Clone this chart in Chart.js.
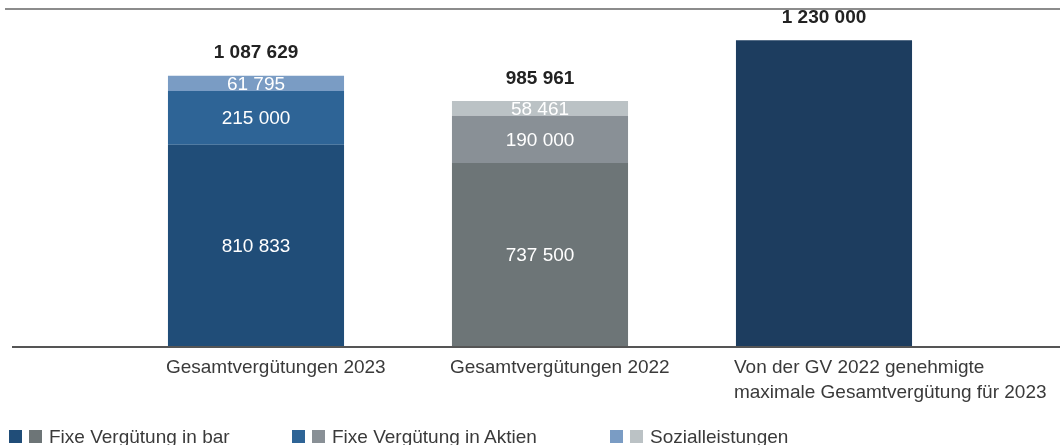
<!DOCTYPE html>
<html>
<head>
<meta charset="utf-8">
<script src="https://cdn.jsdelivr.net/npm/chart.js@4/dist/chart.umd.min.js"></script>
<style>
  body { margin: 0; background: #fff; }
  #wrap { position: relative; width: 1060px; height: 445px; overflow: hidden; }
  .legend { position: absolute; top: 426px; font: 19px "Liberation Sans", Arial, sans-serif; color: #3a3a3a; white-space: nowrap; line-height: 22px; }
  .legend span.sq { display: inline-block; width: 13px; height: 13px; margin-right: 7px; vertical-align: 0px; }
</style>
</head>
<body>
<div id="wrap">
  <canvas id="payChart" width="1060" height="445"></canvas>
  <div id="legendBox"></div>
</div>
<script>
// data
const categories = [
    "Gesamtvergütungen 2023",
    "Gesamtvergütungen 2022",
    ["Von der GV 2022 genehmigte", "maximale Gesamtvergütung für 2023"],
];
const seriesNames = ["Fixe Vergütung in bar", "Fixe Vergütung in Aktien", "Sozialleistungen"];
const cashValues = [810833, 737500, null];
const sharesValues = [215000, 190000, null];
const socialValues = [61795, 58461, null];
const approvedValues = [null, null, 1230000];
const totals = [1087629, 985961, 1230000];

// colours per bar: 2023 blue, 2022 grey
const cashColors = ["#204d78", "#6d7577", "#1d3d5f"];
const sharesColors = ["#2e6496", "#899096", "#1d3d5f"];
const socialColors = ["#7a9cc4", "#bbc2c5", "#1d3d5f"];

const fmt = (v) => String(v).replace(/\B(?=(\d{3})+(?!\d))/g, " ");

const extrasPlugin = {
    id: "extras",
    afterDatasetsDraw(chart) {
        const ctx = chart.ctx;
        const area = chart.chartArea;
        ctx.save();
        // top rule and base line
        ctx.strokeStyle = "#666";
        ctx.lineWidth = 1.5;
        ctx.beginPath();
        ctx.moveTo(5, area.top);
        ctx.lineTo(chart.width, area.top);
        ctx.stroke();
        ctx.strokeStyle = "#555";
        ctx.lineWidth = 2;
        ctx.beginPath();
        ctx.moveTo(12, area.bottom);
        ctx.lineTo(chart.width, area.bottom);
        ctx.stroke();

        // values inside the segments
        ctx.fillStyle = "#fff";
        ctx.font = "19px 'Liberation Sans', Arial, sans-serif";
        ctx.textAlign = "center";
        ctx.textBaseline = "middle";
        chart.data.datasets.forEach((ds, di) => {
            if (di > 2) return;
            chart.getDatasetMeta(di).data.forEach((bar, i) => {
                const v = ds.data[i];
                if (v == null) return;
                ctx.fillText(fmt(v), bar.x, (bar.y + bar.base) / 2 + 1);
            });
        });

        // totals above each bar + category labels under
        const metaX = chart.getDatasetMeta(0).data;
        const yScale = chart.scales.y;
        totals.forEach((t, i) => {
            const bar = metaX[i];
            const top = yScale.getPixelForValue(t);
            ctx.fillStyle = "#222";
            ctx.font = "bold 19px 'Liberation Sans', Arial, sans-serif";
            ctx.textAlign = "center";
            ctx.textBaseline = "bottom";
            ctx.fillText(fmt(t), bar.x, top - 13);

            const lines = [].concat(categories[i]);
            ctx.fillStyle = "#3a3a3a";
            ctx.font = "19px 'Liberation Sans', Arial, sans-serif";
            ctx.textAlign = "left";
            ctx.textBaseline = "middle";
            lines.forEach((ln, k) => {
                ctx.fillText(ln, bar.x - bar.width / 2 - 2, area.bottom + 21 + k * 25);
            });
        });
        ctx.restore();
    },
};

const payCtx = document.getElementById("payChart");
window.payChart = new Chart(payCtx, {
    type: "bar",
    data: {
        labels: categories,
        datasets: [
            { label: seriesNames[0], data: cashValues, backgroundColor: cashColors },
            { label: seriesNames[1], data: sharesValues, backgroundColor: sharesColors },
            { label: seriesNames[2], data: socialValues, backgroundColor: socialColors },
            { label: "Genehmigt", data: approvedValues, backgroundColor: "#1d3d5f" },
        ],
    },
    options: {
        responsive: false,
        animation: false,
        events: [],
        layout: { padding: { left: 114, right: 94, top: 9, bottom: 98 } },
        datasets: { bar: { categoryPercentage: 1, barPercentage: 0.62, borderWidth: 0 } },
        scales: {
            x: { stacked: true, display: false },
            y: { stacked: true, display: false, min: 0, max: 1355000 },
        },
        plugins: { legend: { display: false }, tooltip: { enabled: false } },
    },
    plugins: [extrasPlugin],
});

// legend with paired swatches (2023 / 2022)
const legendLeft = [9, 292, 610];
const box = document.getElementById("legendBox");
seriesNames.forEach((name, i) => {
    const item = document.createElement("div");
    item.className = "legend";
    item.style.left = legendLeft[i] + "px";
    item.innerHTML =
        '<span class="sq" style="background:' + [cashColors, sharesColors, socialColors][i][0] + '"></span>' +
        '<span class="sq" style="background:' + [cashColors, sharesColors, socialColors][i][1] + '"></span>' +
        name;
    box.appendChild(item);
});
</script>
</body>
</html>
